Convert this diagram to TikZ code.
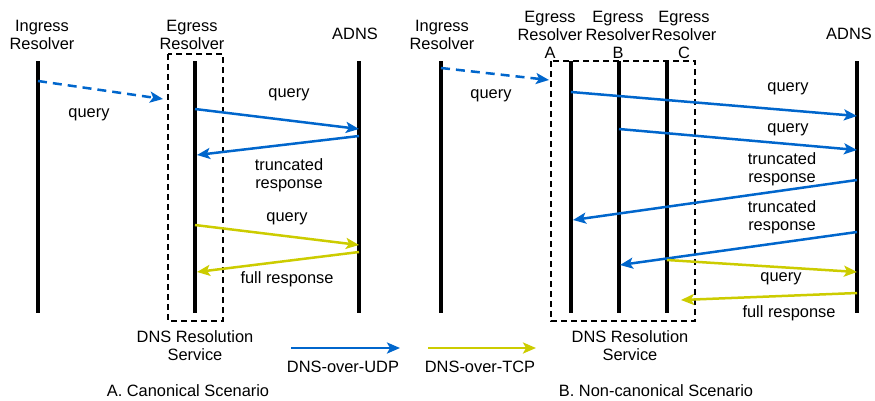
\documentclass[tikz,border=0pt]{standalone}
\usepackage{fontspec}
\setmainfont{Liberation Sans}
\usetikzlibrary{arrows.meta}

\definecolor{udpblue}{RGB}{0,102,204}
\definecolor{tcpyellow}{RGB}{204,204,0}

\tikzset{
  lifeline/.style={line width=4pt},
  svcbox/.style={line width=2pt, dash pattern=on 6pt off 4pt},
  msgtip/.style={-{Stealth[length=13pt,width=11pt,inset=3pt]}},
  udp/.style={udpblue, line width=2.5pt, msgtip},
  tcp/.style={tcpyellow, line width=2.5pt, msgtip},
  udpdash/.style={udp, dash pattern=on 9pt off 6pt},
  lbl/.style={align=center, inner sep=0pt, font=\fontsize{16.4}{18}\selectfont}
}

\begin{document}
\begin{tikzpicture}[x=1pt, y=-1pt, every node/.style={lbl}]
      \useasboundingbox (0,0) rectangle (875,400);

      % Lifelines
      \foreach \x/\n in {38/ia, 195/ea, 359/aa, 441/ib, 571/eA, 619/eB, 667/eC, 857/ab} {
        \coordinate (\n) at (\x,0);
        \draw[lifeline] (\x,61) -- (\x,313);
      }

      % Headers
      \node (ingA)  at (42,35)  {Ingress\\Resolver};
      \node (egA)   at (192,35) {Egress\\Resolver};
      \node (adnsA) at (355,34) {ADNS};
      \node (ingB)  at (442,35) {Ingress\\Resolver};
      \foreach \x/\r in {550/A, 618/B, 684/C} {
        \node (eg\r) at (\x,35) {Egress\\Resolver\\\r};
      }
      \node (adnsB) at (849,34) {ADNS};

      % Service boxes
      \draw[svcbox] (168,54) rectangle (223,321);
      \draw[svcbox] (551,61) rectangle (695,321);
      \node (svcA) at (195,346) {DNS Resolution\\Service};
      \node (svcB) at (630,346) {DNS Resolution\\Service};

      % A. canonical messages
      \coordinate (inA) at (163,99);
      \draw[udpdash] (ia |- 0,81) -- (inA);
      \draw[udp] (ea |- 0,109) -- (aa |- 0,129);
      \draw[udp] (aa |- 0,136) -- ([xshift=2pt]ea |- 0,155);
      \draw[tcp] (ea |- 0,225) -- (aa |- 0,245);
      \draw[tcp] (aa |- 0,252) -- ([xshift=2pt]ea |- 0,272);
      \node (qA0) at (89,115)  {query};
      \node (qA1) at (289,95)  {query};
      \node (tA1) at (289,175) {truncated\\response};
      \node (qA2) at (287,219) {query};
      \node (fA1) at (287,279) {full response};

      % B. non-canonical messages
      \coordinate (inB) at (549,80);
      \coordinate (fullB) at (681,300);
      \draw[udpdash] (ib |- 0,68) -- (inB);
      \draw[udp] (eA |- 0,92) -- (ab |- 0,116);
      \draw[udp] (eB |- 0,129) -- (ab |- 0,150);
      \draw[udp] (ab |- 0,180) -- ([xshift=2pt]eA |- 0,220);
      \draw[udp] (ab |- 0,232) -- ([xshift=1pt]eB |- 0,265);
      \draw[tcp] (eC |- 0,260) -- (ab |- 0,272);
      \draw[tcp] (ab |- 0,293) -- (fullB);
      \node (qB0) at (491,96)  {query};
      \node (qB1) at (788,89)  {query};
      \node (qB2) at (788,130) {query};
      \node (tB1) at (782,169) {truncated\\response};
      \node (tB2) at (782,217) {truncated\\response};
      \node (qB3) at (781,279) {query};
      \node (fB1) at (789,313) {full response};

      % Legend
      \coordinate (lu1) at (291,348);
      \coordinate (lu2) at (400,348);
      \coordinate (lt1) at (428,348);
      \coordinate (lt2) at (536,348);
      \draw[udp] (lu1) -- (lu2);
      \draw[tcp] (lt1) -- (lt2);
      \node (udpl) at (343,367) {DNS-over-UDP};
      \node (tcpl) at (480,367) {DNS-over-TCP};

      % Captions
      \node (capA) at (188,391) {A. Canonical Scenario};
      \node (capB) at (656,391) {B. Non-canonical Scenario};
    \end{tikzpicture}
\end{document}
